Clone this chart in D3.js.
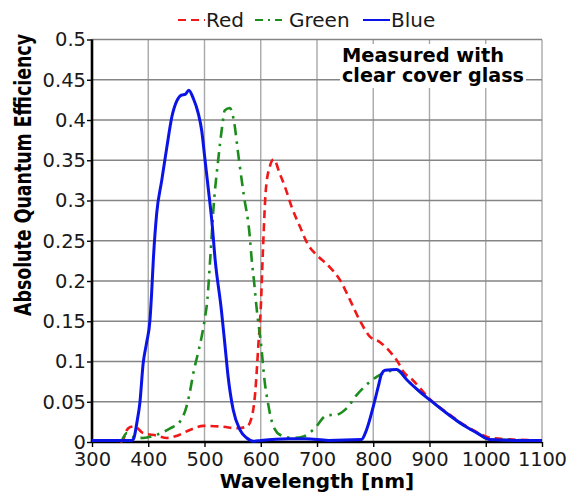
<!DOCTYPE html>
<html>
<head>
<meta charset="utf-8">
<script src="https://cdn.jsdelivr.net/npm/d3@7"></script>
<style>
  body { margin: 0; background: #fff; }
  text { font-family: "DejaVu Sans", sans-serif; }
</style>
</head>
<body>
<script>
// wavelength [nm] and quantum efficiency per channel
var redWl = [350, 356, 362, 370, 376, 391, 415, 433, 450, 474, 498, 533, 557, 575, 584, 590, 596, 600, 604, 609, 616, 623, 634, 643, 655, 670, 685, 700, 723, 741, 759, 776, 794, 812, 830, 845, 853, 870, 901, 930, 960, 985, 1010, 1050, 1100];
var redQE = [0, 0.004, 0.015, 0.019, 0.019, 0.011, 0.008, 0.005, 0.0075, 0.015, 0.020, 0.019, 0.017, 0.019, 0.031, 0.060, 0.123, 0.166, 0.240, 0.313, 0.342, 0.351, 0.333, 0.317, 0.292, 0.267, 0.244, 0.232, 0.217, 0.201, 0.176, 0.151, 0.131, 0.124, 0.112, 0.098, 0.088, 0.077, 0.053, 0.037, 0.022, 0.012, 0.005, 0.003, 0.002];

var greenWl = [352, 362, 375, 391, 415, 439, 456, 468, 474, 480, 489, 495, 501, 505, 510, 517, 524, 532, 536, 545, 552, 561, 570, 580, 584, 588, 593, 601, 607, 613, 618, 625, 634, 658, 676, 696, 717, 735, 753, 770, 788, 806, 824, 842, 860, 880, 901, 930, 960, 985, 1007, 1100];
var greenQE = [0, 0.011, 0.006, 0.005, 0.009, 0.017, 0.025, 0.044, 0.062, 0.085, 0.112, 0.131, 0.155, 0.176, 0.226, 0.300, 0.348, 0.395, 0.412, 0.415, 0.400, 0.352, 0.306, 0.259, 0.226, 0.200, 0.164, 0.118, 0.075, 0.048, 0.030, 0.016, 0.009, 0.005, 0.007, 0.017, 0.033, 0.034, 0.042, 0.058, 0.071, 0.081, 0.087, 0.089, 0.077, 0.064, 0.052, 0.036, 0.021, 0.011, 0.003, 0.002];

var blueWl = [300, 340, 370, 374, 380, 385, 391, 397, 403, 406, 409, 415, 424, 433, 442, 451, 459, 466, 472, 480, 489, 495, 501, 507, 513, 519, 530, 536, 542, 551, 563, 575, 587, 600, 650, 680, 720, 779, 788, 800, 809, 815, 821, 842, 860, 880, 901, 930, 960, 985, 1007, 1050, 1100];
var blueQE = [0.002, 0.002, 0.002, 0.004, 0.025, 0.048, 0.098, 0.123, 0.151, 0.185, 0.226, 0.284, 0.325, 0.366, 0.404, 0.424, 0.431, 0.432, 0.437, 0.427, 0.408, 0.387, 0.350, 0.313, 0.275, 0.226, 0.164, 0.123, 0.081, 0.040, 0.015, 0.005, 0.001, 0.002, 0.004, 0.004, 0.002, 0.003, 0.015, 0.044, 0.069, 0.085, 0.089, 0.090, 0.077, 0.064, 0.052, 0.036, 0.021, 0.011, 0.003, 0.002, 0.002];

var xTicks = [300, 400, 500, 600, 700, 800, 900, 1000, 1100];
var yTicks = [0, 0.05, 0.1, 0.15, 0.2, 0.25, 0.3, 0.35, 0.4, 0.45, 0.5];
var yTickLabels = ["0", "0.05", "0.1", "0.15", "0.2", "0.25", "0.3", "0.35", "0.4", "0.45", "0.5"];
var seriesNames = ["Red", "Green", "Blue"];

var width = 570, height = 493;
var margin = {top: 39.5, right: 28, bottom: 51, left: 92};

var svg = d3.select("body").append("svg")
  .attr("width", width)
  .attr("height", height);

var x = d3.scaleLinear().domain([300, 1100]).range([margin.left, width - margin.right]);
var y = d3.scaleLinear().domain([0, 0.5]).range([height - margin.bottom, margin.top]);

// grid
svg.append("g").selectAll("line")
  .data(xTicks)
  .enter().append("line")
  .attr("x1", function(d) { return x(d); })
  .attr("x2", function(d) { return x(d); })
  .attr("y1", y(0))
  .attr("y2", y(0.5))
  .attr("stroke", "#a8a8a8")
  .attr("stroke-width", 1.4);

svg.append("g").selectAll("line")
  .data(yTicks)
  .enter().append("line")
  .attr("x1", x(300))
  .attr("x2", x(1100))
  .attr("y1", function(d) { return y(d); })
  .attr("y2", function(d) { return y(d); })
  .attr("stroke", "#858585")
  .attr("stroke-width", 1.4);

// note box hides the grid behind the text
svg.append("rect")
  .attr("x", 340).attr("y", 44)
  .attr("width", 186).attr("height", 44)
  .attr("fill", "#fff");

svg.append("text")
  .attr("x", 342).attr("y", 62)
  .attr("font-size", 19).attr("font-weight", "bold")
  .attr("textLength", 162).attr("lengthAdjust", "spacingAndGlyphs")
  .text("Measured with");
svg.append("text")
  .attr("x", 342).attr("y", 82)
  .attr("font-size", 19).attr("font-weight", "bold")
  .attr("textLength", 182).attr("lengthAdjust", "spacingAndGlyphs")
  .text("clear cover glass");

// axes
var xAxis = svg.append("g")
  .attr("transform", "translate(0," + y(0) + ")")
  .call(d3.axisBottom(x).tickValues(xTicks).tickSize(5).tickPadding(5).tickFormat(d3.format("d")));
var yAxis = svg.append("g")
  .attr("transform", "translate(" + x(300) + ",0)")
  .call(d3.axisLeft(y).tickValues(yTicks).tickSize(5).tickPadding(1)
    .tickFormat(function(d, i) { return yTickLabels[i]; }));

[xAxis, yAxis].forEach(function(a) {
  a.select(".domain").attr("stroke", "#000").attr("stroke-width", 2.6);
  a.selectAll(".tick line").attr("stroke", "#000").attr("stroke-width", 1.4);
  a.selectAll(".tick text")
    .attr("font-size", 19.5)
    .attr("font-family", "DejaVu Sans, sans-serif")
    .attr("fill", "#1a1a1a");
});
xAxis.select(".domain").attr("d", "M" + x(300) + ",0H" + x(1100));
yAxis.select(".domain").attr("d", "M0," + y(0) + "V" + y(0.5));
// the last two x labels sit very close; keep them apart a little
xAxis.selectAll(".tick text").attr("textLength", function(d) { return d >= 1000 ? 49 : null; });

// curves
var line = d3.line()
  .x(function(d) { return x(d[0]); })
  .y(function(d) { return y(d[1]); })
  .curve(d3.curveMonotoneX);

var series = [
  {wl: redWl, qe: redQE, color: "#f01818", dash: "8,5", w: 2.6},
  {wl: greenWl, qe: greenQE, color: "#1c8c1c", dash: "11,6,2.5,6", w: 2.6},
  {wl: blueWl, qe: blueQE, color: "#0a14e6", dash: null, w: 3}
];

series.forEach(function(s) {
  svg.append("path")
    .datum(d3.zip(s.wl, s.qe))
    .attr("d", line)
    .attr("fill", "none")
    .attr("stroke", s.color)
    .attr("stroke-width", s.w)
    .attr("stroke-dasharray", s.dash)
    .attr("stroke-linejoin", "round");
});

// legend
var legendX = [178, 255, 363];
var legend = svg.append("g").selectAll("g")
  .data(seriesNames)
  .enter().append("g")
  .attr("transform", function(d, i) { return "translate(" + legendX[i] + ",0)"; });

legend.append("line")
  .attr("x1", 0).attr("x2", 27)
  .attr("y1", 20).attr("y2", 20)
  .attr("stroke", function(d, i) { return series[i].color; })
  .attr("stroke-width", 2)
  .attr("stroke-dasharray", function(d, i) { return i === 0 ? "8,5" : i === 1 ? "8,5,2,5" : null; });

legend.append("text")
  .attr("x", function(d, i) { return i === 1 ? 34 : 28; })
  .attr("y", 27)
  .attr("font-size", 20)
  .attr("fill", "#1a1a1a")
  .text(function(d) { return d; });

// axis titles
svg.append("text")
  .attr("x", 317).attr("y", 488)
  .attr("text-anchor", "middle")
  .attr("font-size", 20).attr("font-weight", "bold")
  .text("Wavelength [nm]");

// condensed look: squeeze the rotated label along its length
svg.append("text")
  .attr("transform", "translate(31,175) rotate(-90) scale(0.756,1)")
  .attr("text-anchor", "middle")
  .attr("font-size", 23).attr("font-weight", "bold")
  .text("Absolute Quantum Efficiency");
</script>
</body>
</html>
